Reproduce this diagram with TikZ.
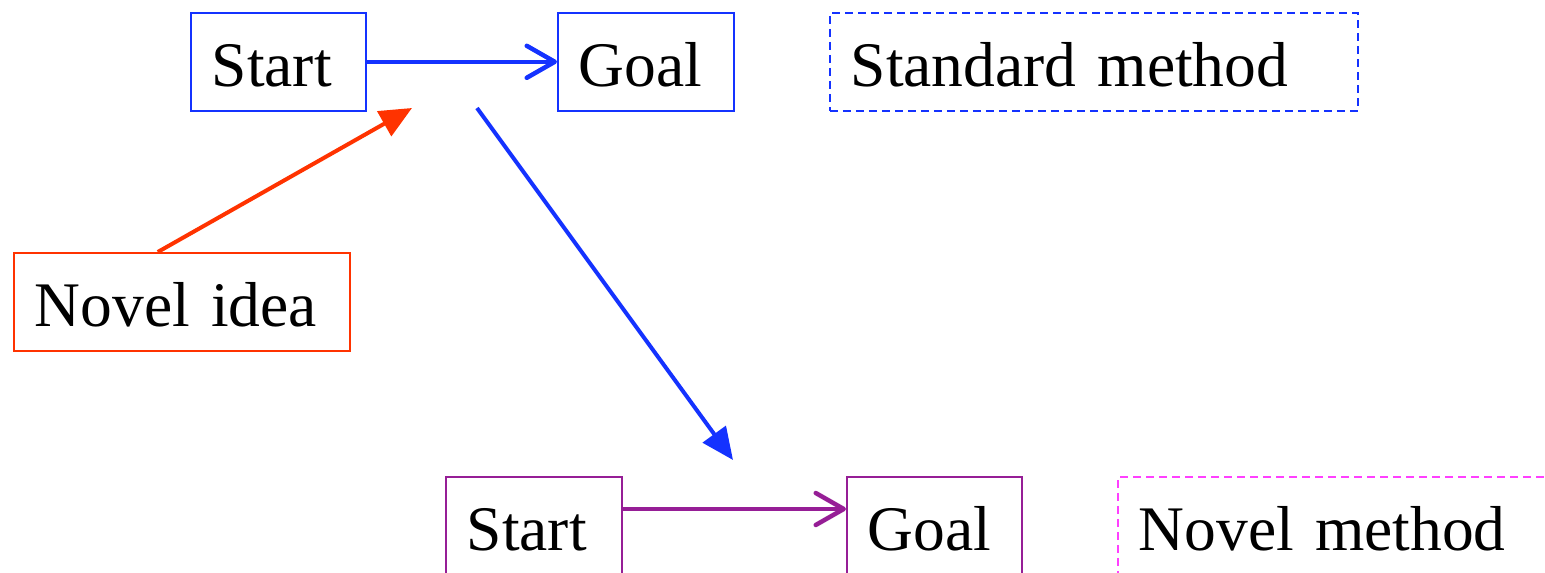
\documentclass[tikz,border=0pt]{standalone}
\usepackage{fontspec}
\setmainfont{Liberation Serif}
\usetikzlibrary{arrows.meta,positioning,calc}
\definecolor{stdblue}{RGB}{20,50,255}
\definecolor{ideared}{RGB}{255,51,0}
\definecolor{novpurple}{RGB}{150,30,150}
\definecolor{novpink}{RGB}{255,64,255}

\begin{document}
\begin{tikzpicture}[x=1pt, y=-1pt,
    stepnode/.style={draw, line width=1.6pt, anchor=north west,
                     inner xsep=21pt, inner ysep=0pt, text height=74pt,
                     text depth=24pt, align=left,
                     font=\fontsize{63.5pt}{70pt}\selectfont},
    legendnode/.style={stepnode, dash pattern=on 8pt off 5pt},
    openarr/.style={-{Straight Barb[length=28pt,width=32pt,round]},
                    line width=4.5pt},
    fillarr/.style={-{Triangle[length=32pt,width=28pt]}, line width=4pt},
  ]
    \useasboundingbox (0,0) rectangle (1545,573);
    \clip (0,0) rectangle (1545,573);

    % Standard method (top row)
    \node[stepnode, draw=stdblue, text width=133pt] (start) at (190,12) {Start};
    \node[stepnode, draw=stdblue, text width=134pt] (goal) at (557,12) {Goal};
    \node[legendnode, draw=stdblue, text width=486pt] (std) at (829,12) {Standard method};

    % Novel idea
    \node[stepnode, draw=ideared, text width=294pt] (idea) at (13,252) {Novel idea};

    % Novel method (bottom row)
    \node[stepnode, draw=novpurple, text width=134pt] (nstart) at (445,476) {Start};
    \node[stepnode, draw=novpurple, text width=133pt] (ngoal) at (846,476) {Goal};
    \node[legendnode, draw=novpink, text width=486pt] (nov) at (1117,476) {Novel method};

    % Free arrow ends
    \coordinate (hint) at (412,108);
    \coordinate (jumpa) at (477,108);
    \coordinate (jumpb) at (733,460);

    % Arrows
    \draw[openarr, stdblue] (start) -- (goal);
    \draw[fillarr, ideared] ([xshift=-24pt]idea.north) -- (hint);
    \draw[fillarr, stdblue] (jumpa) -- (jumpb);
    \draw[openarr, novpurple] ([yshift=-33pt]nstart.north east)
      -- ([yshift=-33pt]ngoal.north west);
  \end{tikzpicture}
\end{document}
